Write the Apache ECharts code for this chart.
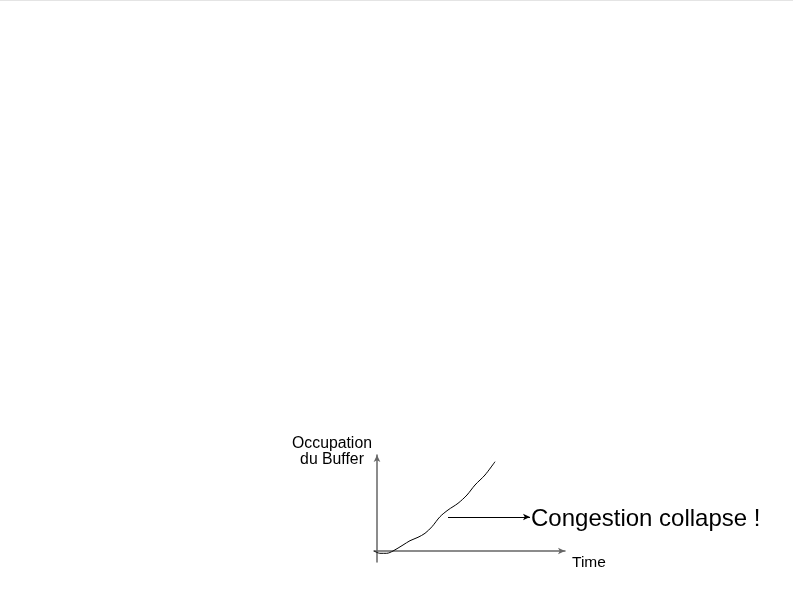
<!DOCTYPE html>
<html><head><meta charset="utf-8">
<script src="https://cdn.jsdelivr.net/npm/echarts@6/dist/echarts.min.js"></script>
<style>html,body{margin:0;padding:0;background:#fff}#c{width:793px;height:595px}</style>
</head><body><div id="c"></div>
<script>
// Curve values (time, buffer occupation) in arbitrary units
const timeVals   = [-3, 3, 9.7, 16, 26, 33, 41, 48, 55, 63, 71, 81, 90, 98, 108, 118];
const bufferVals = [0, -2.3, -2.3, 0, 6, 10.3, 13.7, 17.7, 24.3, 34.3, 41, 47.7, 56, 66, 76, 89.3];
const arrowStart = [71, 34];
const arrowEnd = [153, 34];
const annotation = 'Congestion collapse !';
const yName = 'Occupation\ndu Buffer';
const xName = 'Time';

const chart = echarts.init(document.getElementById('c'), null, {renderer: 'canvas'});
const font = 'Liberation Sans, Arial, Helvetica, sans-serif';
const axisColor = '#666';
chart.setOption({
  animation: false,
  backgroundColor: '#fff',
  textStyle: {fontFamily: font},
  graphic: [{type: 'rect', shape: {x: 0, y: 0, width: 793, height: 1}, style: {fill: '#e4e4e4'}}],
  grid: {left: 374, right: 228, top: 455, bottom: 33},
  xAxis: {
    type: 'value', min: -3, max: 188,
    name: xName, nameLocation: 'end', nameGap: 7,
    nameTextStyle: {fontSize: 15.5, color: '#000', fontFamily: font, verticalAlign: 'top', padding: [4, 0, 0, 0]},
    axisLine: {onZero: true, lineStyle: {color: axisColor, width: 1.5}, symbol: ['none', 'arrow'], symbolSize: [5, 7]},
    axisTick: {show: false}, axisLabel: {show: false}, splitLine: {show: false}
  },
  yAxis: {
    type: 'value', min: -11, max: 96,
    name: yName, nameLocation: 'end', nameGap: 3,
    nameTextStyle: {fontSize: 15.8, lineHeight: 16, color: '#000', fontFamily: font, align: 'center', verticalAlign: 'middle', padding: [0, 90, 0, 0]},
    axisLine: {onZero: true, lineStyle: {color: axisColor, width: 1.5}, symbol: ['none', 'arrow'], symbolSize: [5, 7]},
    axisTick: {show: false}, axisLabel: {show: false}, splitLine: {show: false}
  },
  series: [{
    type: 'line',
    data: timeVals.map((t, i) => [t, bufferVals[i]]),
    smooth: 0.3,
    showSymbol: false,
    lineStyle: {color: '#000', width: 1},
    markLine: {
      silent: true,
      symbol: ['none', 'arrow'],
      symbolSize: [5, 7],
      lineStyle: {color: '#000', width: 1, type: 'solid'},
      label: {show: true, position: 'end', formatter: annotation, fontSize: 24, color: '#000', fontFamily: font, distance: 1, offset: [0, 2]},
      data: [[{coord: arrowStart}, {coord: arrowEnd}]]
    }
  }]
});
</script></body></html>
